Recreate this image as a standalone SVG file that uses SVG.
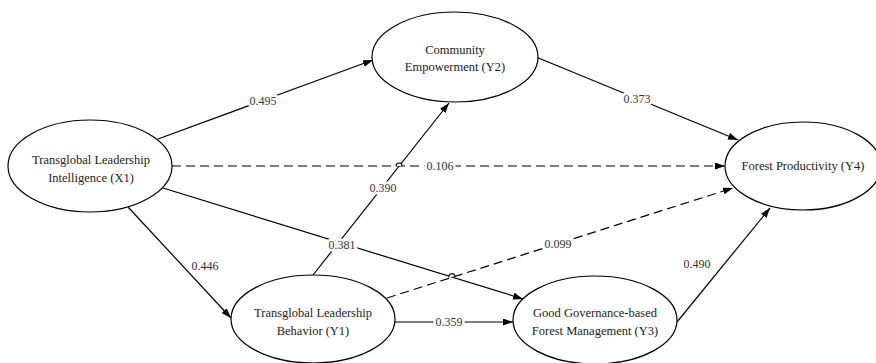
<svg xmlns="http://www.w3.org/2000/svg" width="876" height="363" viewBox="0 0 876 363">
<defs>
<marker id="arr" markerWidth="11" markerHeight="8" refX="10" refY="3.5" orient="auto" markerUnits="userSpaceOnUse">
<path d="M0,0 L10,3.5 L0,7 z" fill="#000"/>
</marker>
<style>
text{font-family:"Liberation Serif","Times New Roman",Times,serif}
.node ellipse{fill:#fff;stroke:#000;stroke-width:1.2}
.node text{font-size:12.5px;fill:#222;text-anchor:middle}
.edge{stroke:#000;stroke-width:1.2;fill:none;marker-end:url(#arr)}
.dash{stroke-dasharray:9,5}
.hop{stroke:#000;stroke-width:1.2;fill:#fff}
.lbl{font-size:12px;fill:#333;text-anchor:middle;stroke:#fff;stroke-width:5;paint-order:stroke;stroke-linejoin:round}
</style>
</defs>
<rect width="876" height="363" fill="#fff"/>
<g id="connectors">
<line class="edge" x1="158" y1="139" x2="373" y2="60"/>
<line class="edge" x1="536" y1="57" x2="738" y2="140"/>
<line class="edge dash" x1="172" y1="166" x2="725" y2="166"/>
<line class="edge" x1="163" y1="188" x2="523" y2="299"/>
<line class="edge" x1="128" y1="207" x2="231" y2="318"/>
<line class="edge" x1="313" y1="275" x2="449" y2="103"/>
<line class="edge dash" x1="387" y1="298" x2="733" y2="188"/>
<line class="edge" x1="395" y1="322" x2="513" y2="322"/>
<line class="edge" x1="677" y1="322" x2="770" y2="208"/>
<path class="hop" d="M396,166 A3,3 0 0 1 402,166"/>
<path class="hop" d="M449,277.5 A3,3 0 0 1 455,276"/>
<text class="lbl" x="263" y="105">0.495</text>
<text class="lbl" x="637" y="103">0.373</text>
<text class="lbl" x="440" y="170">0.106</text>
<text class="lbl" x="342" y="249">0.381</text>
<text class="lbl" x="205" y="270">0.446</text>
<text class="lbl" x="383" y="192">0.390</text>
<text class="lbl" x="558" y="248">0.099</text>
<text class="lbl" x="449" y="326">0.359</text>
<text class="lbl" x="697" y="268">0.490</text>
</g>
<g id="X1" class="node">
<ellipse cx="90" cy="166" rx="82" ry="46"/>
<text x="91" y="164">Transglobal Leadership</text>
<text x="91" y="182">Intelligence (X1)</text>
</g>
<g id="Y2" class="node">
<ellipse cx="455" cy="57" rx="83" ry="45"/>
<text x="455" y="54">Community</text>
<text x="455" y="71">Empowerment (Y2)</text>
</g>
<g id="Y4" class="node">
<ellipse cx="803" cy="166" rx="78" ry="44"/>
<text x="803" y="170">Forest Productivity (Y4)</text>
</g>
<g id="Y1" class="node">
<ellipse cx="313" cy="319" rx="82" ry="44"/>
<text x="313" y="317">Transglobal Leadership</text>
<text x="313" y="335">Behavior (Y1)</text>
</g>
<g id="Y3" class="node">
<ellipse cx="595" cy="320" rx="82" ry="44"/>
<text x="595" y="317">Good Governance-based</text>
<text x="595" y="335">Forest Management (Y3)</text>
</g>
</svg>
